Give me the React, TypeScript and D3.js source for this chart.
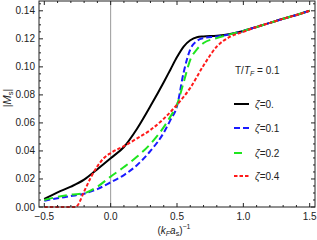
import React from 'react';
import * as d3 from 'd3';

// Data
const xs = [-0.5, -0.4, -0.3, -0.2, -0.1, 0, 0.1, 0.2, 0.3, 0.4, 0.45, 0.5, 0.55, 0.6, 0.65, 0.7, 0.8, 0.9, 1.0, 1.1, 1.2, 1.3, 1.4, 1.5];
const zeta0 = [0.0057, 0.0105, 0.0145, 0.0195, 0.027, 0.0348, 0.0428, 0.056, 0.072, 0.089, 0.098, 0.107, 0.1145, 0.119, 0.1212, 0.1217, 0.1222, 0.1234, 0.1256, 0.1285, 0.1314, 0.1343, 0.137, 0.14];
const zeta01 = [0.0045, 0.0062, 0.0078, 0.0095, 0.0128, 0.0176, 0.0228, 0.03, 0.04, 0.053, 0.062, 0.072, 0.096, 0.1125, 0.1185, 0.1205, 0.1217, 0.1232, 0.1256, 0.1285, 0.1314, 0.1343, 0.137, 0.14];
const zeta02 = [0.005, 0.0072, 0.0088, 0.0098, 0.0145, 0.0217, 0.0285, 0.036, 0.045, 0.057, 0.0645, 0.073, 0.089, 0.105, 0.1125, 0.117, 0.1205, 0.1232, 0.1256, 0.1285, 0.1314, 0.1343, 0.137, 0.14];
const zeta04x = [-0.5, -0.26, -0.25, -0.2, -0.15, -0.1, -0.05, 0, 0.1, 0.2, 0.3, 0.4, 0.5, 0.6, 0.7, 0.8, 0.9, 1.0, 1.1, 1.2, 1.3, 1.4, 1.5];
const zeta04 = [0, 0, 0.001, 0.011, 0.021, 0.029, 0.035, 0.0385, 0.0435, 0.049, 0.055, 0.063, 0.073, 0.085, 0.101, 0.1145, 0.1215, 0.125, 0.1285, 0.1314, 0.1343, 0.137, 0.14];

const xTicks = [-0.5, 0.0, 0.5, 1.0, 1.5];
const yTicks = [0, 0.02, 0.04, 0.06, 0.08, 0.1, 0.12, 0.14];
const legendLabels = ['0.', '0.1', '0.2', '0.4'];

const W = 317;
const H = 240;
const margin = { left: 39, right: 2, top: 1, bottom: 33 };

const x = d3.scaleLinear().domain([-0.54, 1.54]).range([margin.left, W - margin.right]);
const y = d3.scaleLinear().domain([0, 0.147]).range([H - margin.bottom, margin.top]);

const series = [
  { xv: xs, yv: zeta0, color: '#000000', dash: 'none' },
  { xv: xs, yv: zeta01, color: '#1a1aff', dash: '6,3' },
  { xv: xs, yv: zeta02, color: '#1fe51f', dash: '9,5' },
  { xv: zeta04x, yv: zeta04, color: '#ff1a1a', dash: '3.5,2' },
];

const font = 'Liberation Sans, Arial, sans-serif';

export default function App() {
  const line = d3.line<[number, number]>()
    .x(d => x(d[0]))
    .y(d => y(d[1]))
    .curve(d3.curveMonotoneX);

  const [x0, x1] = x.range();
  const [y0, y1] = y.range();
  const xMinor = d3.range(-0.5, 1.51, 0.1);
  const yMinor = d3.range(0, 0.1451, 0.005);

  return (
    <svg width={W} height={H} style={{ position: 'absolute', left: 0, top: 0 }} fontFamily={font}>
      <defs>
        <clipPath id="plot">
          <rect x={x0} y={y1} width={x1 - x0} height={y0 - y1 + 1.5} />
        </clipPath>
      </defs>
      {/* zero line */}
      <line x1={x(0)} x2={x(0)} y1={y1} y2={y0} stroke="#999" strokeWidth={1} />

      <g clipPath="url(#plot)">
        {series.map((s, i) => (
          <path key={i}
            d={line(s.xv.map((v, j) => [v, s.yv[j]] as [number, number])) || ''}
            fill="none" stroke={s.color} strokeWidth={2}
            strokeDasharray={s.dash} />
        ))}
      </g>

      {/* frame */}
      <rect x={x0} y={y1} width={x1 - x0} height={y0 - y1} fill="none" stroke="#222" strokeWidth={1} />

      {/* x ticks */}
      {xMinor.map((t, i) => {
        const major = Math.abs(Math.round(t * 2) - t * 2) < 1e-6;
        const len = major ? 4 : 2;
        return (
          <g key={'xt' + i} stroke="#222">
            <line x1={x(t)} x2={x(t)} y1={y0} y2={y0 - len} />
            <line x1={x(t)} x2={x(t)} y1={y1} y2={y1 + len} />
          </g>
        );
      })}
      {xTicks.map(t => (
        <text key={'xl' + t} x={x(t)} y={y0 + 13} fontSize={10} textAnchor="middle" fill="#222">
          {t < 0 ? '\u2212' + Math.abs(t).toFixed(1) : t.toFixed(1)}
        </text>
      ))}

      {/* y ticks */}
      {yMinor.map((t, i) => {
        const major = Math.abs(Math.round(t * 50) - t * 50) < 1e-6;
        const len = major ? 4 : 2;
        return (
          <g key={'yt' + i} stroke="#222">
            <line x1={x0} x2={x0 + len} y1={y(t)} y2={y(t)} />
            <line x1={x1} x2={x1 - len} y1={y(t)} y2={y(t)} />
          </g>
        );
      })}
      {yTicks.map(t => (
        <text key={'yl' + t} x={x0 - 4} y={y(t) + 3.5} fontSize={10} textAnchor="end" fill="#222">
          {t.toFixed(2)}
        </text>
      ))}

      {/* axis labels */}
      <text transform={`translate(11,98) rotate(-90)`} fontSize={11} textAnchor="middle" fill="#222">
        |<tspan fontStyle="italic">M</tspan><tspan fontSize={7.5} dy={2}>s</tspan><tspan dy={-2}>|</tspan>
      </text>
      <text x={174} y={234} fontSize={10} textAnchor="middle" fill="#222">
        (<tspan fontStyle="italic">k</tspan><tspan fontSize={7} dy={2} fontStyle="italic">F</tspan>
        <tspan dy={-2} fontStyle="italic">a</tspan><tspan fontSize={7} dy={2}>s</tspan>
        <tspan dy={-2}>)</tspan><tspan fontSize={7} dy={-5}>−1</tspan>
      </text>

      {/* annotation */}
      <text x={235} y={74} fontSize={10} fill="#222">
        T/<tspan fontStyle="italic">T</tspan><tspan fontSize={7} dy={2} fontStyle="italic">F</tspan>
        <tspan dy={-2}> = 0.1</tspan>
      </text>

      {/* legend */}
      {series.map((s, i) => {
        const ly = [104, 128, 153, 176][i];
        return (
          <g key={'lg' + i}>
            <line x1={234} x2={249} y1={ly} y2={ly} stroke={s.color} strokeWidth={2}
              strokeDasharray={i === 2 ? '8,20' : s.dash} />
            <text x={255} y={ly + 3.5} fontSize={10} fill="#222">
              <tspan fontStyle="italic">ζ</tspan>={legendLabels[i]}
            </text>
          </g>
        );
      })}
    </svg>
  );
}
